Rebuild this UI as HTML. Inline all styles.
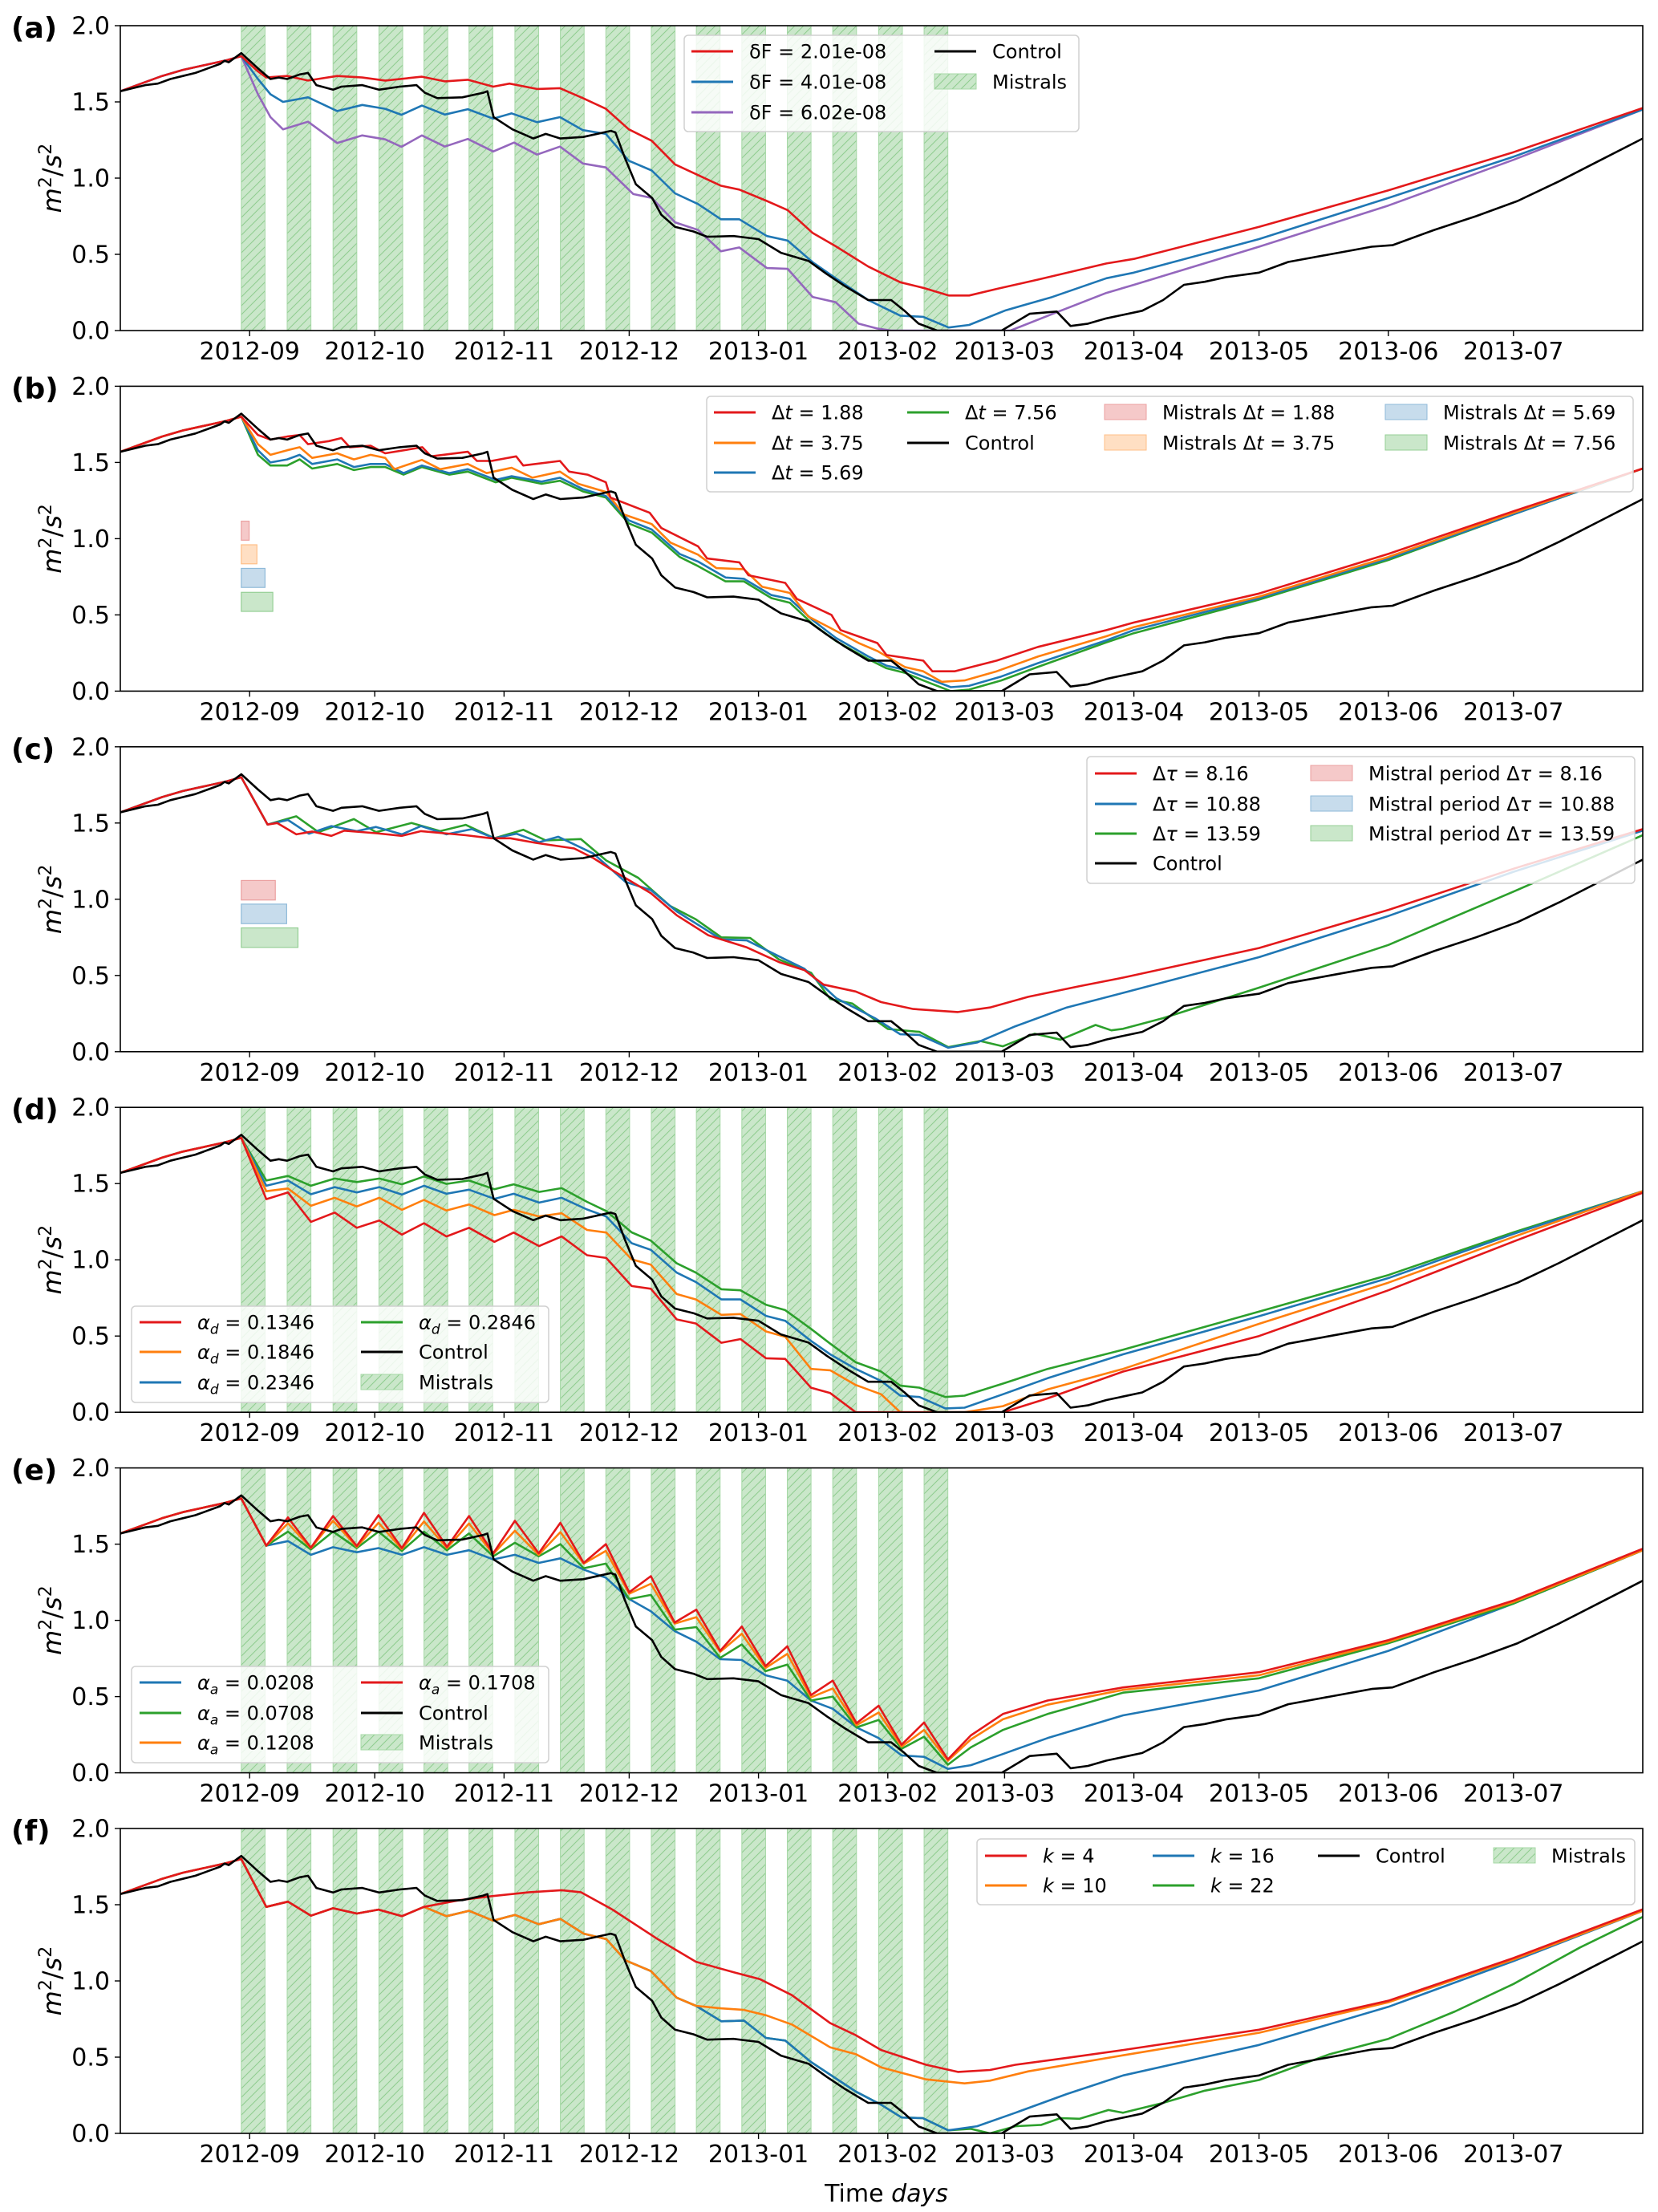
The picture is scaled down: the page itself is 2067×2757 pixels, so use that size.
<!DOCTYPE html>
<html><head><meta charset="utf-8"><style>
html,body{margin:0;padding:0;background:#fff;}
svg{display:block;font-family:"DejaVu Sans","Liberation Sans",sans-serif;}
</style></head>
<body>
<svg id="fig" xmlns="http://www.w3.org/2000/svg" width="2067" height="2757" viewBox="0 0 2067 2757">
<defs>
<pattern id="hatch" patternUnits="userSpaceOnUse" width="11" height="11">
<rect width="11" height="11" fill="#cae7ca"/>
<path d="M-1,12 L12,-1 M-3,3 L3,-3 M8,14 L14,8" stroke="#8fcc8f" stroke-width="1"/>
</pattern>
</defs>
<g id="root"></g>
<text x="1105" y="2744" font-size="30" text-anchor="middle">Time <tspan font-style="italic">days</tspan></text>
</svg>
<script>
// ---- data (days since 2012-08-01) ----
const tickLabels = ["2012-09","2012-10","2012-11","2012-12","2013-01","2013-02","2013-03","2013-04","2013-05","2013-06","2013-07"];
const tickDays = [31,61,92,122,153,184,212,243,273,304,334];
const yTicks = [0,0.5,1,1.5,2];
const yTickLabels = ["0.0","0.5","1.0","1.5","2.0"];
const panelLabels = ["(a)","(b)","(c)","(d)","(e)","(f)"];
const mistralStarts = [29,40,51,62,72.8,83.6,94.6,105.5,116.4,127.3,138.1,149,159.9,170.8,181.8,192.7];
const mistralWidth = 5.7;

const preDays = [0,5,10,15,20,25,29];
const preVals = [1.57,1.62,1.67,1.71,1.74,1.77,1.80];

const ctrlDays = [0,3,6,9,12,15,18,21,24,25,26,29,33,36,38,40,43,45,47,51,53,58,62,67,71,73,76,82,87,88,89.5,94,99,102,105.5,111,117.6,118.7,121,123.6,127.5,129.7,133,137.4,140.7,147,153,158.4,165,169.4,173.8,179.3,184.8,188,191.4,195.8,211.3,218,224.5,227.8,232,236.4,245,250,255,260,265,273,280,290,300,305,315,325,335,345,355,365];
const ctrlVals = [1.57,1.59,1.61,1.62,1.65,1.67,1.69,1.72,1.75,1.77,1.76,1.82,1.72,1.65,1.66,1.65,1.68,1.69,1.61,1.58,1.60,1.61,1.58,1.60,1.61,1.56,1.525,1.53,1.56,1.57,1.40,1.32,1.26,1.29,1.26,1.27,1.31,1.30,1.13,0.96,0.87,0.76,0.68,0.65,0.615,0.62,0.60,0.51,0.457,0.37,0.29,0.20,0.20,0.13,0.045,0,0,0.11,0.125,0.03,0.045,0.08,0.13,0.20,0.30,0.32,0.35,0.38,0.45,0.50,0.55,0.56,0.66,0.75,0.85,0.98,1.12,1.26];

// panel a
const aRedDays = [33,35,40,45,52,58,63.5,72.3,77.8,83.3,89.4,93.3,99.9,105.4,110.9,116.4,121.9,127.4,133,138.5,144,148.4,155,160,166,171.5,179.3,187,192.5,198.6,203.5,210.1,220.1,236.4,243,273,304,334,365];
const aRedVals = [1.70,1.66,1.67,1.64,1.67,1.66,1.64,1.665,1.635,1.645,1.60,1.62,1.585,1.59,1.525,1.455,1.32,1.245,1.09,1.02,0.95,0.925,0.85,0.79,0.64,0.553,0.42,0.317,0.28,0.23,0.23,0.273,0.335,0.44,0.47,0.68,0.92,1.17,1.46];
const aBlueDays = [33,36,39,45,52,58,63.5,67.4,72.3,77.8,83.3,89.4,93.8,99.9,105.4,110.9,116.4,121.9,127.4,133,138.5,144,148.4,155,160,166,171.5,179.3,187,192.5,198.6,203.5,212.3,223.4,236.4,243,273,304,334,365];
const aBlueVals = [1.65,1.55,1.50,1.53,1.44,1.48,1.455,1.415,1.476,1.417,1.452,1.39,1.425,1.367,1.40,1.315,1.29,1.114,1.05,0.90,0.83,0.73,0.73,0.62,0.59,0.448,0.343,0.20,0.098,0.09,0.02,0.037,0.133,0.22,0.343,0.38,0.60,0.87,1.14,1.45];
const aPurpleDays = [33,36,39,45,52,58,63.5,67.4,72.3,77.8,83.3,89.4,94.4,99.9,105.4,110.9,116.4,123,127.4,133,138.5,144,148.4,155,160,166,171.5,177,181.3,184.8,213.4,224.5,236.4,243,273,304,334,365];
const aPurpleVals = [1.55,1.40,1.32,1.37,1.23,1.28,1.254,1.205,1.28,1.207,1.257,1.175,1.233,1.154,1.207,1.096,1.07,0.895,0.87,0.71,0.66,0.52,0.545,0.41,0.405,0.22,0.186,0.045,0.014,0,0,0.12,0.247,0.30,0.55,0.82,1.12,1.45];

// panel b
const bRedDays = [33,36,40,43,45,50,53,55,60,63.5,72.4,74.5,83.3,85.5,89,94.9,96.6,105.4,107.6,112,116.4,117.5,126.9,129.7,138.5,140.7,148.4,150.6,159.4,162.2,170.5,172.7,181.5,183.7,192.5,194.7,200,210.1,220,236.4,243,273,304,334,365];
const bRedVals = [1.68,1.65,1.67,1.68,1.62,1.64,1.66,1.60,1.61,1.56,1.60,1.54,1.57,1.51,1.51,1.54,1.48,1.51,1.44,1.42,1.37,1.27,1.17,1.07,0.95,0.87,0.845,0.76,0.71,0.605,0.50,0.40,0.315,0.237,0.20,0.13,0.13,0.20,0.29,0.40,0.45,0.64,0.90,1.18,1.46];
const bOrangeDays = [33,36,40,43,46,52,56,60,63.5,65.7,72.3,76.7,83.3,87.8,93.8,98.8,105.4,109.8,116.4,120.8,127.4,131.9,138.5,142.9,149.5,153.9,160.5,164.9,170.4,177,181.5,188.1,192.5,196.9,202.4,210.1,220.1,236.4,243,273,304,334,365];
const bOrangeVals = [1.62,1.55,1.58,1.60,1.53,1.56,1.52,1.55,1.53,1.456,1.517,1.456,1.49,1.43,1.465,1.40,1.44,1.36,1.307,1.158,1.096,0.974,0.895,0.807,0.80,0.684,0.644,0.49,0.412,0.316,0.263,0.158,0.13,0.061,0.07,0.13,0.228,0.36,0.42,0.62,0.88,1.17,1.46];
const bBlueDays = [33,36,40,43,46,52,56,60,63.5,67.9,72.3,78.9,83.3,90,93.8,101,105.4,110.9,116.4,121.9,127.4,134.1,138.5,145.1,149.5,156.1,160.5,166,171.5,179.3,183.7,188.1,192.5,199.1,203.5,211.2,220.1,236.4,243,273,304,334,365];
const bBlueVals = [1.58,1.50,1.52,1.55,1.49,1.52,1.47,1.49,1.49,1.43,1.48,1.43,1.456,1.386,1.41,1.374,1.40,1.325,1.28,1.12,1.06,0.90,0.85,0.745,0.737,0.63,0.605,0.465,0.35,0.228,0.167,0.14,0.096,0.026,0.035,0.096,0.184,0.333,0.40,0.61,0.87,1.16,1.46];
const bGreenDays = bBlueDays;
const bGreenVals = [1.55,1.48,1.48,1.52,1.46,1.49,1.45,1.47,1.47,1.42,1.47,1.42,1.44,1.37,1.40,1.36,1.38,1.31,1.27,1.10,1.04,0.88,0.82,0.72,0.72,0.61,0.58,0.44,0.33,0.21,0.15,0.12,0.07,0.0,0.01,0.07,0.16,0.32,0.38,0.60,0.86,1.16,1.46];
const bBoxWidths = [1.88,3.75,5.69,7.56];
const bBoxTops = [1.115,0.96,0.805,0.648];

// panel c
const cRedDays = [35.3,37.6,42.2,46,50.6,53.7,61.3,67.5,72.1,82.8,88.9,93.5,99.6,108.8,113.4,118,127.2,133.4,141,150.2,157.9,164,168.6,176.3,182.4,190.1,200.8,208.5,217.7,230,240.4,273,304,334,365];
const cRedVals = [1.49,1.50,1.426,1.444,1.416,1.45,1.433,1.416,1.447,1.42,1.40,1.40,1.37,1.333,1.27,1.19,1.04,0.895,0.763,0.684,0.588,0.535,0.44,0.395,0.325,0.28,0.26,0.29,0.36,0.43,0.486,0.68,0.93,1.20,1.46];
const cBlueDays = [35.3,40.2,45.2,50.6,56.7,61.3,67.5,72.1,78.2,84.3,89.7,95,100.4,105,113.4,121.1,127.2,133.4,144.1,150.2,159.4,164,171.7,180.9,187,191.6,198.5,205.4,214.6,226.9,240.4,273,304,334,365];
const cBlueVals = [1.49,1.52,1.43,1.48,1.447,1.474,1.426,1.48,1.426,1.46,1.40,1.43,1.374,1.41,1.30,1.114,1.06,0.92,0.737,0.73,0.605,0.544,0.35,0.22,0.114,0.11,0.026,0.06,0.167,0.29,0.386,0.62,0.89,1.18,1.45];
const cGreenDays = [35.3,42.2,47.5,56,61.3,69.8,76.7,82.8,89.7,96.6,102,110.4,116.5,124.2,131.8,138,144.1,151,157.9,165.6,170.2,175.5,184,191.6,198.5,206.2,211.6,219.2,225.4,233.8,237.6,240.4,250,273,304,334,365];
const cGreenVals = [1.49,1.544,1.44,1.526,1.44,1.50,1.447,1.488,1.40,1.456,1.386,1.395,1.254,1.14,0.956,0.868,0.75,0.746,0.605,0.518,0.346,0.316,0.149,0.13,0.03,0.07,0.035,0.118,0.079,0.175,0.14,0.15,0.22,0.42,0.70,1.05,1.42];
const cBoxWidths = [8.16,10.88,13.59];
const cBoxTops = [1.123,0.968,0.812];

// panel d
const dDays = [35,40.2,45.7,51.4,56.7,62.1,67.5,72.8,78.2,83.6,89.7,94.3,100.4,105.8,111.9,116.5,122.6,127.2,133.4,138,144.1,148.7,154.8,159.4,165.6,170.2,176.3,182.4,187,191.6,197.8,202.4,211.6,222.3,240.4,273,304,334,365];
const dGreenVals = [1.52,1.55,1.486,1.533,1.51,1.533,1.495,1.547,1.498,1.52,1.463,1.495,1.445,1.47,1.38,1.32,1.18,1.126,0.977,0.916,0.807,0.80,0.705,0.67,0.547,0.45,0.328,0.267,0.174,0.161,0.10,0.109,0.188,0.284,0.41,0.66,0.90,1.18,1.45];
const dBlueVals = [1.486,1.52,1.43,1.477,1.442,1.477,1.428,1.486,1.433,1.46,1.40,1.433,1.375,1.407,1.33,1.284,1.109,1.065,0.916,0.854,0.74,0.74,0.632,0.60,0.468,0.38,0.284,0.205,0.109,0.10,0.025,0.03,0.118,0.223,0.38,0.63,0.88,1.17,1.45];
const dOrangeVals = [1.45,1.468,1.354,1.407,1.35,1.407,1.328,1.393,1.323,1.363,1.293,1.328,1.284,1.305,1.196,1.179,1.003,0.968,0.775,0.74,0.639,0.644,0.53,0.495,0.284,0.275,0.179,0.118,0,0,0,0,0.04,0.15,0.284,0.58,0.85,1.15,1.45];
const dRedVals = [1.398,1.442,1.249,1.31,1.21,1.258,1.165,1.24,1.153,1.21,1.118,1.179,1.09,1.153,1.03,1.012,0.828,0.81,0.609,0.582,0.456,0.48,0.354,0.35,0.161,0.126,0,0,0,0,0,0,0,0.091,0.267,0.50,0.80,1.12,1.44];

// panel e
const eDays = [35,40.2,45.7,51,56.7,61.9,67.5,72.8,78.3,83.6,89.4,94.6,100.3,105.5,111.1,116.4,122,127.2,132.9,138.1,143.8,149,154.7,159.9,165.6,170.8,176.5,181.8,187.3,192.7,198.4,203.9,211.6,222.3,240.4,273,304,334,365];
const eRedVals = [1.49,1.675,1.477,1.684,1.488,1.69,1.474,1.705,1.482,1.684,1.44,1.653,1.44,1.64,1.377,1.50,1.184,1.29,0.986,1.07,0.80,0.96,0.70,0.83,0.51,0.605,0.325,0.44,0.184,0.33,0.088,0.245,0.386,0.474,0.56,0.66,0.87,1.13,1.47];
const eOrangeVals = [1.49,1.637,1.474,1.653,1.482,1.64,1.468,1.649,1.474,1.635,1.435,1.588,1.43,1.579,1.372,1.456,1.175,1.24,0.979,1.021,0.793,0.912,0.688,0.78,0.495,0.553,0.312,0.395,0.172,0.281,0.079,0.219,0.351,0.447,0.544,0.64,0.86,1.12,1.46];
const eGreenVals = [1.49,1.582,1.465,1.582,1.474,1.582,1.456,1.582,1.46,1.57,1.42,1.509,1.42,1.5,1.342,1.372,1.14,1.167,0.939,0.956,0.754,0.842,0.667,0.71,0.474,0.5,0.298,0.347,0.158,0.237,0.053,0.167,0.281,0.386,0.526,0.62,0.85,1.11,1.46];
const eBlueVals = [1.49,1.52,1.43,1.48,1.447,1.474,1.43,1.48,1.43,1.46,1.40,1.43,1.377,1.407,1.333,1.28,1.14,1.06,0.93,0.86,0.746,0.74,0.64,0.605,0.474,0.42,0.298,0.228,0.114,0.105,0.026,0.05,0.123,0.228,0.377,0.54,0.80,1.11,1.46];

// panel f
const fRedDays = [35,40.2,45.7,51,56.7,61.9,67.5,72.8,81.3,88.9,98.1,105.8,110.4,118,128.8,138,147.2,153.3,161,170.2,176.3,182.4,193.2,200.8,208.5,214.6,226.9,240.4,273,304,334,365];
const fRedVals = [1.486,1.52,1.428,1.477,1.442,1.468,1.425,1.486,1.53,1.556,1.582,1.595,1.582,1.468,1.275,1.126,1.056,1.012,0.907,0.723,0.644,0.547,0.45,0.403,0.416,0.45,0.495,0.547,0.68,0.87,1.15,1.47];
const fOrangeDays = [35,40.2,45.7,51,56.7,61.9,67.5,72.8,78.2,83.6,89.4,94.6,100.3,105.5,111.1,116.5,121.1,127.2,133.4,138,144.1,149.5,154.8,161,170.2,176.3,182.4,193.2,202.4,208.5,217.7,240.4,273,304,334,365];
const fOrangeVals = [1.486,1.52,1.428,1.477,1.442,1.468,1.425,1.486,1.425,1.46,1.395,1.433,1.372,1.407,1.31,1.275,1.135,1.065,0.89,0.837,0.82,0.81,0.775,0.714,0.565,0.52,0.433,0.354,0.328,0.346,0.407,0.512,0.66,0.86,1.14,1.46];
const fBlueDays = [35,40.2,45.7,51,56.7,61.9,67.5,72.8,78.2,83.6,89.4,94.6,100.3,105.5,111.1,116.5,121.1,127.2,133.4,138,144.1,149.5,154.8,159.4,165.6,176.3,182.4,187.3,192.4,198.5,205.4,214.6,226.9,240.4,273,304,334,365];
const fBlueVals = [1.486,1.52,1.428,1.477,1.442,1.468,1.425,1.486,1.425,1.46,1.395,1.433,1.372,1.407,1.31,1.275,1.135,1.065,0.89,0.837,0.735,0.74,0.626,0.609,0.468,0.275,0.188,0.104,0.10,0.02,0.047,0.135,0.258,0.38,0.58,0.83,1.13,1.46];
const fGreenDays = [35,40.2,45.7,51,56.7,61.9,67.5,72.8,78.2,83.6,89.4,94.6,100.3,105.5,111.1,116.5,121.1,127.2,133.4,138,144.1,149.5,154.8,159.4,165.6,176.3,182.4,187.3,192.4,198.5,203.9,208.5,214.6,220.8,225.4,230,236.9,240.4,250,260,273,290,304,320,334,350,365];
const fGreenVals = [1.486,1.52,1.428,1.477,1.442,1.468,1.425,1.486,1.425,1.46,1.395,1.433,1.372,1.407,1.31,1.275,1.135,1.065,0.89,0.837,0.735,0.74,0.626,0.609,0.468,0.275,0.188,0.104,0.10,0.02,0.03,0.0,0.047,0.056,0.10,0.096,0.153,0.135,0.20,0.28,0.35,0.52,0.62,0.80,0.98,1.22,1.42];

// ---- layout ----
const NS = "http://www.w3.org/2000/svg";
const X0 = 150, X1 = 2048, DAYSPAN = 365, PH = 380, PTOP0 = 32, PSTEP = 449.4;
const C = {red:"#e3191b", orange:"#ff7f0e", blue:"#1f77b4", green:"#2ca02c", purple:"#9467bd", black:"#000000"};
const PATCH = {red:["#f5c9c9","#eba0a0"], orange:["#ffdfc3","#ffbf87"], blue:["#c7dcec","#8fbad9"], green:["#cae7ca","#95cf95"]};
function xs(d){ return X0 + d*(X1-X0)/DAYSPAN; }
function ys(top, v){ return top + PH - v*PH/2; }
const root = document.getElementById("root");
function el(tag, attrs, parent){ const e = document.createElementNS(NS, tag); for (const k in attrs) e.setAttribute(k, attrs[k]); (parent||root).appendChild(e); return e; }

function drawSeries(g, top, days, vals, color, name){
  let d = "";
  for (let i=0;i<days.length;i++){ d += (i?"L":"M") + xs(days[i]).toFixed(1) + "," + ys(top, vals[i]).toFixed(1); }
  const p = el("path", {d:d, fill:"none", stroke:color, "stroke-width":2.6, "stroke-linejoin":"round"}, g);
  
  
}
function pre(days, vals){ return [preDays.concat(days), preVals.concat(vals)]; }

function panel(i){
  const top = PTOP0 + i*PSTEP;
  const g = el("g", {});
  
  
  const cp = el("clipPath", {id:"clip"+i}, g);
  el("rect", {x:X0, y:top, width:X1-X0, height:PH}, cp);
  const plot = el("g", {"clip-path":"url(#clip"+i+")"}, g);
  
  
  return {top:top, g:g, plot:plot};
}
function axes(P, i){
  const {top, g} = P;
  const fr = el("rect", {x:X0, y:top, width:X1-X0, height:PH, fill:"none", stroke:"#000", "stroke-width":1.6}, g);
  
  
  for (let k=0;k<tickDays.length;k++){
    const x = xs(tickDays[k]);
    el("line", {x1:x, x2:x, y1:top+PH, y2:top+PH+7, stroke:"#000", "stroke-width":1.4}, g);
    const t = el("text", {x:x, y:top+PH+36, "font-size":30, "text-anchor":"middle"}, g);
    t.textContent = tickLabels[k];
    
    
  }
  for (let k=0;k<yTicks.length;k++){
    const y = ys(top, yTicks[k]);
    el("line", {x1:X0-7, x2:X0, y1:y, y2:y, stroke:"#000", "stroke-width":1.4}, g);
    const t = el("text", {x:137, y:y+10.5, "font-size":30, "text-anchor":"end"}, g);
    t.textContent = yTickLabels[k];
    
    
  }
  const pl = el("text", {x:14, y:top+15, "font-size":36, "font-weight":"bold"}, g);
  pl.textContent = panelLabels[i];
  
  
  const yl = el("text", {x:0, y:0, "font-size":32, "text-anchor":"middle", transform:"translate(76,"+(top+PH/2)+") rotate(-90)"}, g);
  yl.innerHTML = '<tspan font-style="italic">m</tspan><tspan dy="-12" font-size="22">2</tspan><tspan dy="12">/</tspan><tspan font-style="italic">s</tspan><tspan dy="-12" font-size="22">2</tspan>';
  
  
}
function mistrals(P){
  for (let k=0;k<mistralStarts.length;k++){
    const r = el("rect", {x:xs(mistralStarts[k]), y:P.top, width:xs(mistralStarts[k]+mistralWidth)-xs(mistralStarts[k]), height:PH, fill:"url(#hatch)", stroke:"#a6d8a6", "stroke-width":1}, P.plot);
    
    
  }
}
function boxes(P, widths, tops, colors, h){
  for (let k=0;k<widths.length;k++){
    const r = el("rect", {x:xs(29), y:ys(P.top, tops[k]), width:xs(29+widths[k])-xs(29), height:h*PH/2, fill:PATCH[colors[k]][0], stroke:PATCH[colors[k]][1], "stroke-width":1.2}, P.plot);
    
    
  }
}
function legend(x, y, w, h, items){
  const lg = el("g", {});
  
  
  el("rect", {x:x, y:y, width:w, height:h, rx:5, fill:"#fff", "fill-opacity":0.82, stroke:"#d0d0d0", "stroke-width":1.5}, lg);
  for (const it of items){
    const e = el("g", {}, lg);
    
    
    if (it.type === "line") el("line", {x1:it.x, x2:it.x+52, y1:it.y, y2:it.y, stroke:it.color, "stroke-width":3}, e);
    else if (it.type === "hatch") el("rect", {x:it.x, y:it.y-10, width:52, height:19, fill:"url(#hatch)", stroke:"#a6d8a6", "stroke-width":1}, e);
    else el("rect", {x:it.x, y:it.y-10, width:52, height:19, fill:PATCH[it.color][0], stroke:PATCH[it.color][1], "stroke-width":1}, e);
    const t = el("text", {x:it.x+72, y:it.y+8.5, "font-size":24}, e);
    t.innerHTML = it.label;
  }
}
const it = (type,x,y,color,label)=>({type,x,y,color,label});
const dt = v => 'Δ<tspan font-style="italic">t</tspan> = ' + v;
const dtau = v => 'Δ<tspan font-style="italic">τ</tspan> = ' + v;
const ad = v => '<tspan font-style="italic">α</tspan><tspan font-style="italic" dy="6" font-size="17">d</tspan><tspan dy="-6"> = ' + v + '</tspan>';
const aa = v => '<tspan font-style="italic">α</tspan><tspan font-style="italic" dy="6" font-size="17">a</tspan><tspan dy="-6"> = ' + v + '</tspan>';
const kk = v => '<tspan font-style="italic">k</tspan> = ' + v;

// ---- panel a ----
let P = panel(0); mistrals(P);
drawSeries(P.plot, P.top, ...pre(aPurpleDays, aPurpleVals), C.purple, "series-df-6.02e-08");
drawSeries(P.plot, P.top, ...pre(aBlueDays, aBlueVals), C.blue, "series-df-4.01e-08");
drawSeries(P.plot, P.top, ...pre(aRedDays, aRedVals), C.red, "series-df-2.01e-08");
drawSeries(P.plot, P.top, ctrlDays, ctrlVals, C.black, "series-control");
axes(P, 0);
legend(853, 44, 492, 120, [
  it("line",862,64,C.red,"δF = 2.01e-08"), it("line",862,102,C.blue,"δF = 4.01e-08"), it("line",862,140,C.purple,"δF = 6.02e-08"),
  it("line",1165,64,C.black,"Control"), it("hatch",1165,102,null,"Mistrals")]);

// ---- panel b ----
P = panel(1);
boxes(P, bBoxWidths, bBoxTops, ["red","orange","blue","green"], 0.125);
drawSeries(P.plot, P.top, ...pre(bGreenDays, bGreenVals), C.green, "series-dt-7.56");
drawSeries(P.plot, P.top, ...pre(bBlueDays, bBlueVals), C.blue, "series-dt-5.69");
drawSeries(P.plot, P.top, ...pre(bOrangeDays, bOrangeVals), C.orange, "series-dt-3.75");
drawSeries(P.plot, P.top, ...pre(bRedDays, bRedVals), C.red, "series-dt-1.88");
drawSeries(P.plot, P.top, ctrlDays, ctrlVals, C.black, "series-control");
axes(P, 1);
legend(881, 494, 1155, 119, [
  it("line",890,514,C.red,dt("1.88")), it("line",890,552,C.orange,dt("3.75")), it("line",890,589,C.blue,dt("5.69")),
  it("line",1131,514,C.green,dt("7.56")), it("line",1131,552,C.black,"Control"),
  it("patch",1377,514,"red","Mistrals "+dt("1.88")), it("patch",1377,552,"orange","Mistrals "+dt("3.75")),
  it("patch",1727,514,"blue","Mistrals "+dt("5.69")), it("patch",1727,552,"green","Mistrals "+dt("7.56"))]);

// ---- panel c ----
P = panel(2);
boxes(P, cBoxWidths, cBoxTops, ["red","blue","green"], 0.128);
drawSeries(P.plot, P.top, ...pre(cGreenDays, cGreenVals), C.green, "series-dtau-13.59");
drawSeries(P.plot, P.top, ...pre(cBlueDays, cBlueVals), C.blue, "series-dtau-10.88");
drawSeries(P.plot, P.top, ...pre(cRedDays, cRedVals), C.red, "series-dtau-8.16");
drawSeries(P.plot, P.top, ctrlDays, ctrlVals, C.black, "series-control");
axes(P, 2);
legend(1355, 943, 683, 158, [
  it("line",1365,964,C.red,dtau("8.16")), it("line",1365,1002,C.blue,dtau("10.88")), it("line",1365,1039,C.green,dtau("13.59")), it("line",1365,1076,C.black,"Control"),
  it("patch",1634,964,"red","Mistral period "+dtau("8.16")), it("patch",1634,1002,"blue","Mistral period "+dtau("10.88")), it("patch",1634,1039,"green","Mistral period "+dtau("13.59"))]);

// ---- panel d ----
P = panel(3); mistrals(P);
drawSeries(P.plot, P.top, ...pre(dDays, dGreenVals), C.green, "series-alpha-d-0.2846");
drawSeries(P.plot, P.top, ...pre(dDays, dBlueVals), C.blue, "series-alpha-d-0.2346");
drawSeries(P.plot, P.top, ...pre(dDays, dOrangeVals), C.orange, "series-alpha-d-0.1846");
drawSeries(P.plot, P.top, ...pre(dDays, dRedVals), C.red, "series-alpha-d-0.1346");
drawSeries(P.plot, P.top, ctrlDays, ctrlVals, C.black, "series-control");
axes(P, 3);
legend(164, 1628, 520, 120, [
  it("line",174,1648,C.red,ad("0.1346")), it("line",174,1685,C.orange,ad("0.1846")), it("line",174,1723,C.blue,ad("0.2346")),
  it("line",450,1648,C.green,ad("0.2846")), it("line",450,1685,C.black,"Control"), it("hatch",450,1723,null,"Mistrals")]);

// ---- panel e ----
P = panel(4); mistrals(P);
drawSeries(P.plot, P.top, ...pre(eDays, eBlueVals), C.blue, "series-alpha-a-0.0208");
drawSeries(P.plot, P.top, ...pre(eDays, eGreenVals), C.green, "series-alpha-a-0.0708");
drawSeries(P.plot, P.top, ...pre(eDays, eOrangeVals), C.orange, "series-alpha-a-0.1208");
drawSeries(P.plot, P.top, ...pre(eDays, eRedVals), C.red, "series-alpha-a-0.1708");
drawSeries(P.plot, P.top, ctrlDays, ctrlVals, C.black, "series-control");
axes(P, 4);
legend(164, 2077, 520, 120, [
  it("line",174,2097,C.blue,aa("0.0208")), it("line",174,2135,C.green,aa("0.0708")), it("line",174,2172,C.orange,aa("0.1208")),
  it("line",450,2097,C.red,aa("0.1708")), it("line",450,2135,C.black,"Control"), it("hatch",450,2172,null,"Mistrals")]);

// ---- panel f ----
P = panel(5); mistrals(P);
drawSeries(P.plot, P.top, ...pre(fGreenDays, fGreenVals), C.green, "series-k-22");
drawSeries(P.plot, P.top, ...pre(fBlueDays, fBlueVals), C.blue, "series-k-16");
drawSeries(P.plot, P.top, ...pre(fOrangeDays, fOrangeVals), C.orange, "series-k-10");
drawSeries(P.plot, P.top, ...pre(fRedDays, fRedVals), C.red, "series-k-4");
drawSeries(P.plot, P.top, ctrlDays, ctrlVals, C.black, "series-control");
axes(P, 5);
legend(1218, 2292, 820, 82, [
  it("line",1228,2313,C.red,kk("4")), it("line",1228,2350,C.orange,kk("10")),
  it("line",1437,2313,C.blue,kk("16")), it("line",1437,2350,C.green,kk("22")),
  it("line",1643,2313,C.black,"Control"), it("hatch",1862,2313,null,"Mistrals")]);
</script>
</body></html>
